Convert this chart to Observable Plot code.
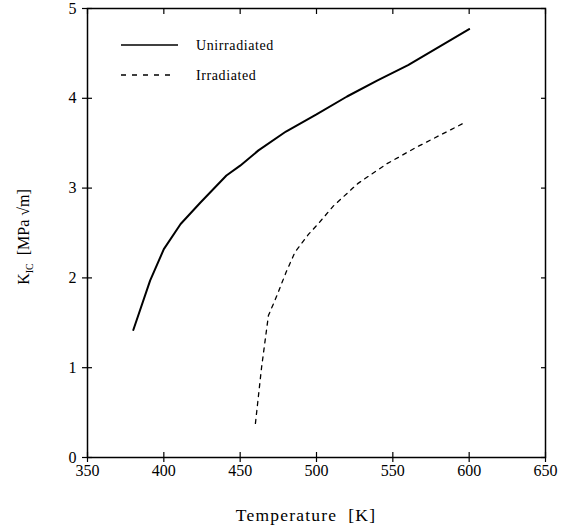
<!DOCTYPE html>
<html>
<head>
<meta charset="utf-8">
<script src="https://cdn.jsdelivr.net/npm/d3@7"></script>
<script src="https://cdn.jsdelivr.net/npm/@observablehq/plot@0.6"></script>
<style>
  html, body { margin: 0; padding: 0; background: #fff; }
  #chart svg { display: block; }
  #chart svg text { font-family: "Liberation Serif", serif; }
</style>
</head>
<body>
<div id="chart"></div>
<script>
// Unirradiated (solid)
const unirrT = [380, 391, 400, 411, 424, 441, 450, 462, 480, 500, 520, 540, 560, 580, 600];
const unirrK = [1.42, 1.97, 2.32, 2.60, 2.84, 3.14, 3.25, 3.42, 3.63, 3.82, 4.02, 4.20, 4.37, 4.57, 4.77];
// Irradiated (dashed)
const irrT = [460, 464, 468.5, 474, 480, 486, 495, 501, 511, 527, 546, 566, 581, 596];
const irrK = [0.38, 1.0, 1.58, 1.80, 2.06, 2.29, 2.49, 2.60, 2.80, 3.05, 3.27, 3.46, 3.59, 3.72];
const seriesNames = ["Unirradiated", "Irradiated"];
const xTicks = [350, 400, 450, 500, 550, 600, 650];
const yTicks = [0, 1, 2, 3, 4, 5];

const unirr = unirrT.map((t, i) => ({T: t, K: unirrK[i]}));
const irr = irrT.map((t, i) => ({T: t, K: irrK[i]}));

const font = "Liberation Serif, serif";
const noLabel = () => "";
const plain = d => String(d);

const plot = Plot.plot({
  width: 565,
  height: 526,
  marginLeft: 87,
  marginRight: 20,
  marginTop: 8,
  marginBottom: 69,
  style: {fontFamily: font, fontSize: "16px", color: "#000", background: "#fff"},
  x: {domain: [350, 650], ticks: xTicks, label: null},
  y: {domain: [0, 5], ticks: yTicks, label: null},
  marks: [
    Plot.frame({stroke: "#000", strokeWidth: 1.5}),
    // bottom ticks crossing the axis
    Plot.axisX({anchor: "bottom", ticks: xTicks, tickSize: 10, dy: -5, tickFormat: noLabel, strokeWidth: 1.2, label: null}),
    Plot.axisX({anchor: "bottom", ticks: xTicks, tickSize: 0, tickPadding: 7, tickFormat: plain, fontSize: 16, label: null}),
    // top inward ticks
    Plot.axisX({anchor: "top", ticks: xTicks, tickSize: 5, dy: 5, tickFormat: noLabel, strokeWidth: 1.2, label: null}),
    // left ticks crossing the axis
    Plot.axisY({anchor: "left", ticks: yTicks, tickSize: 10, dx: 5, tickFormat: noLabel, strokeWidth: 1.2, label: null}),
    Plot.axisY({anchor: "left", ticks: yTicks, tickSize: 0, tickPadding: 11, tickFormat: plain, fontSize: 16, label: null}),
    // right inward ticks
    Plot.axisY({anchor: "right", ticks: yTicks, tickSize: 5, dx: -5, tickFormat: noLabel, strokeWidth: 1.2, label: null}),
    Plot.line(unirr, {x: "T", y: "K", stroke: "#000", strokeWidth: 2, curve: "linear"}),
    Plot.line(irr, {x: "T", y: "K", stroke: "#000", strokeWidth: 1.3, strokeDasharray: "4,5", curve: "linear"})
  ]
});

const svg = d3.select(plot);
// X axis label
svg.append("text")
  .attr("x", 306).attr("y", 521)
  .attr("text-anchor", "middle")
  .attr("font-size", 17.5).attr("letter-spacing", "1.2px")
  .attr("fill", "#000")
  .text("Temperature  [K]");

// Y axis label with subscript
const yl = svg.append("text")
  .attr("transform", "translate(29,237) rotate(-90)")
  .attr("text-anchor", "middle")
  .attr("font-size", 16)
  .attr("fill", "#000");
yl.append("tspan").text("K");
yl.append("tspan").attr("font-size", 10).attr("dy", 4).text("IC");
yl.append("tspan").attr("dy", -4).text("  [MPa \u221Am]");

// Legend
const legend = svg.append("g").attr("font-size", 14).attr("fill", "#000").attr("text-anchor", "start");
legend.append("line").attr("x1", 121).attr("x2", 178).attr("y1", 45).attr("y2", 45)
  .attr("stroke", "#000").attr("stroke-width", 1.6);
legend.append("text").attr("x", 196).attr("y", 50).attr("letter-spacing", "0.6px").text(seriesNames[0]);
legend.append("line").attr("x1", 121).attr("x2", 174).attr("y1", 75).attr("y2", 75)
  .attr("stroke", "#000").attr("stroke-width", 1.3).attr("stroke-dasharray", "5,6");
legend.append("text").attr("x", 196).attr("y", 80).attr("letter-spacing", "0.6px").text(seriesNames[1]);

document.getElementById("chart").appendChild(plot);
</script>
</body>
</html>
